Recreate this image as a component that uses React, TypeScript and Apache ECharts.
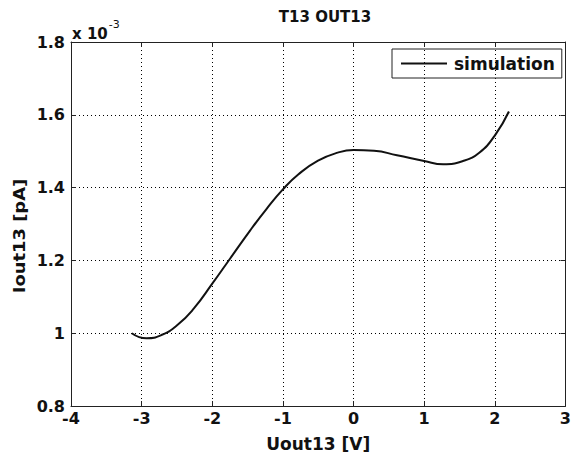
import React, { useEffect, useRef } from "react";
import * as echarts from "echarts";

const titleText = "T13 OUT13";
const xName = "Uout13 [V]";
const yName = "Iout13 [pA]";
const seriesName = "simulation";
const xVals = [-3.14, -2.93, -2.72, -2.49, -2.26, -2.0, -1.744, -1.465, -1.233, -1.0, -0.783, -0.503, -0.224, 0.0, 0.29, 0.615, 1.0, 1.27, 1.55, 1.78, 2.0, 2.2];
const yVals = [1.0, 0.986, 0.995, 1.023, 1.068, 1.136, 1.206, 1.282, 1.341, 1.395, 1.436, 1.474, 1.496, 1.503, 1.501, 1.489, 1.473, 1.464, 1.473, 1.496, 1.543, 1.609];

const FONT = "DejaVu Sans, Verdana, sans-serif";

export default function App() {
  const ref = useRef<HTMLDivElement>(null);
  useEffect(() => {
    const chart = echarts.init(ref.current!, undefined, { renderer: "svg" });
    const data = xVals.map((x, i) => [x, yVals[i]]);
    const axisLine = { show: true, onZero: false, lineStyle: { color: "#222", width: 1 } };
    const tick = { show: true, inside: true, length: 5, lineStyle: { color: "#222" } };
    const grid = { show: true, lineStyle: { color: "#000", type: [1, 3] as any, width: 1 } };
    const label = { color: "#111", fontFamily: FONT, fontWeight: "bold" as const, fontSize: 16 };
    chart.setOption({
      animation: false,
      backgroundColor: "#fff",
      grid: { left: 71, top: 42, right: 5, bottom: 48 },
      title: {
        text: titleText,
        left: 320,
        textAlign: "center",
        top: 4,
        textStyle: { fontFamily: FONT, fontWeight: "bold", fontSize: 15, color: "#111" },
      },
      legend: {
        data: [{ name: seriesName, icon: "rect" }],
        left: 392,
        top: 49,
        itemWidth: 46,
        itemHeight: 2,
        itemGap: 4,
        borderColor: "#222",
        borderWidth: 1,
        borderRadius: 0,
        padding: [6, 7, 6, 9],
        textStyle: { fontFamily: FONT, fontWeight: "bold", fontSize: 17, color: "#111", padding: [0, 0, 0, 2] },
      },
      xAxis: [
        {
          type: "value",
          min: -4,
          max: 3,
          interval: 1,
          name: xName,
          nameLocation: "middle",
          nameGap: 29,
          nameTextStyle: { fontFamily: FONT, fontWeight: "bold", fontSize: 17, color: "#111" },
          axisLine,
          axisTick: tick,
          splitLine: grid,
          axisLabel: { ...label, margin: 4 },
        },
        {
          type: "value",
          position: "top",
          min: -4,
          max: 3,
          interval: 1,
          axisLine,
          axisTick: tick,
          splitLine: { show: false },
          axisLabel: { show: false },
        },
      ],
      yAxis: [
        {
          type: "value",
          min: 0.8,
          max: 1.8,
          interval: 0.2,
          axisLine,
          axisTick: tick,
          splitLine: grid,
          axisLabel: { ...label, margin: 6, formatter: (v: number) => String(parseFloat(v.toFixed(1))) },
        },
        {
          type: "value",
          position: "right",
          min: 0.8,
          max: 1.8,
          interval: 0.2,
          axisLine,
          axisTick: tick,
          splitLine: { show: false },
          axisLabel: { show: false },
        },
      ],
      graphic: [
        {
          type: "text",
          x: 19,
          y: 236,
          rotation: Math.PI / 2,
          scaleX: 1.12,
          style: {
            text: yName,
            fontFamily: FONT,
            fontWeight: "bold",
            fontSize: 16,
            fill: "#111",
            align: "center",
            verticalAlign: "middle",
          },
        },
        {
          type: "text",
          left: 72,
          top: 19,
          style: {
            text: "{a|x 10}{b|-3}",
            rich: {
              a: { fontFamily: FONT, fontWeight: "bold", fontSize: 15, fill: "#111", verticalAlign: "bottom", lineHeight: 22 },
              b: { fontFamily: FONT, fontWeight: "normal", fontSize: 11, fill: "#111", verticalAlign: "top", padding: [0, 0, 10, 1], lineHeight: 12 },
            },
          },
        },
      ],
      series: [
        {
          name: seriesName,
          type: "line",
          data,
          smooth: 0.5,
          showSymbol: false,
          symbol: "none",
          lineStyle: { color: "#111", width: 2 },
          itemStyle: { color: "#111" },
        },
      ],
    });
    return () => chart.dispose();
  }, []);
  return <div ref={ref} style={{ position: "fixed", left: 0, top: 0, width: 574, height: 457 }} />;
}
